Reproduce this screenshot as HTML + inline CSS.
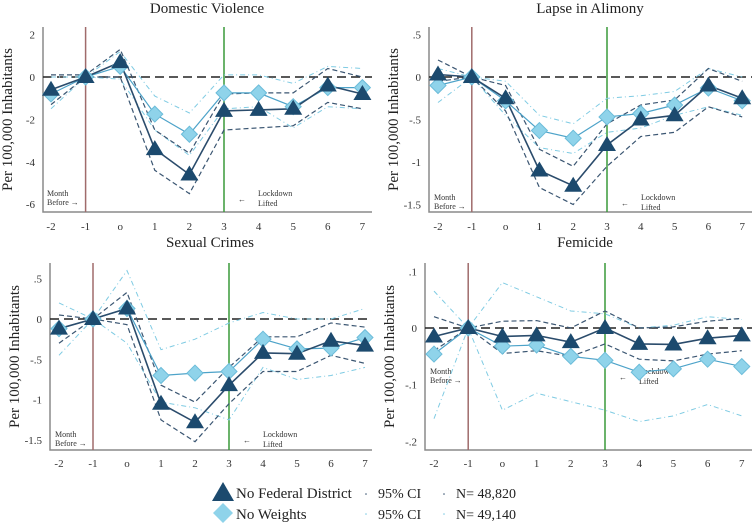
<!DOCTYPE html>
<html><head><meta charset="utf-8">
<style>
html,body{margin:0;padding:0;background:#fff;}
svg{display:block;font-family:"Liberation Serif",serif;}
</style></head>
<body>
<svg id="chart" width="752" height="526" viewBox="0 0 752 526" xmlns="http://www.w3.org/2000/svg"></svg>
<script>
const months = [-2,-1,0,1,2,3,4,5,6,7];
const monthLabels = ["-2","-1","o","1","2","3","4","5","6","7"];
// Domestic Violence
const dvTri = [-0.6,0,0.7,-3.4,-4.6,-1.6,-1.55,-1.5,-0.4,-0.8];
const dvDia = [-0.8,0,0.5,-1.75,-2.7,-0.75,-0.75,-1.4,-0.5,-0.5];
const dvTriHi = [0.1,0.1,1.3,-2.5,-3.6,-0.8,-0.75,-0.75,0.4,0];
const dvTriLo = [-1.3,0,0,-4.4,-5.5,-2.5,-2.4,-2.3,-1.2,-1.5];
const dvDiaHi = [0,0,1.2,-0.9,-1.7,0.1,0.1,-0.3,0.5,0.4];
const dvDiaLo = [-1.5,0,-0.1,-2.5,-3.7,-1.5,-1.4,-2.4,-1.4,-1.5];
const dvTicks = [2,0,-2,-4,-6];
const dvTickLabels = ["2","0","-2","-4","-6"];
// Lapse in Alimony
const laTri = [0.03,0,-0.25,-1.1,-1.28,-0.8,-0.5,-0.45,-0.1,-0.25];
const laDia = [-0.1,0,-0.28,-0.63,-0.72,-0.47,-0.43,-0.33,-0.13,-0.28];
const laTriHi = [0.2,0,-0.1,-0.85,-1.05,-0.55,-0.33,-0.27,0.1,-0.05];
const laTriLo = [-0.05,0,-0.4,-1.3,-1.5,-1.05,-0.7,-0.65,-0.35,-0.47];
const laDiaHi = [0.1,0,-0.05,-0.45,-0.55,-0.25,-0.22,-0.17,0.1,0];
const laDiaLo = [-0.3,0,-0.45,-0.83,-0.9,-0.65,-0.6,-0.45,-0.35,-0.45];
const laTicks = [0.5,0,-0.5,-1,-1.5];
const laTickLabels = [".5","0","-.5","-1","-1.5"];
// Sexual Crimes
const scTri = [-0.12,0,0.13,-1.05,-1.28,-0.82,-0.42,-0.43,-0.27,-0.33];
const scDia = [-0.12,0,0.13,-0.7,-0.67,-0.65,-0.25,-0.37,-0.36,-0.23];
const scTriHi = [0.05,0,0.33,-0.82,-1.03,-0.6,-0.22,-0.22,-0.05,-0.1];
const scTriLo = [-0.3,0,-0.07,-1.25,-1.52,-1.05,-0.65,-0.65,-0.45,-0.55];
const scDiaHi = [0.2,0,0.6,-0.38,-0.25,-0.05,0.08,0,0,0.13];
const scDiaLo = [-0.45,0,-0.3,-1.03,-1.1,-1.25,-0.6,-0.75,-0.7,-0.6];
const scTicks = [0.5,0,-0.5,-1,-1.5];
const scTickLabels = [".5","0","-.5","-1","-1.5"];
// Femicide
const feTri = [-0.015,0,-0.015,-0.013,-0.025,0,-0.028,-0.029,-0.018,-0.013];
const feDia = [-0.046,0,-0.032,-0.03,-0.05,-0.057,-0.078,-0.072,-0.055,-0.068];
const feTriHi = [0.02,0,0.012,0.013,0,0.03,0,0.002,0.012,0.017];
const feTriLo = [-0.04,0,-0.045,-0.04,-0.05,-0.028,-0.055,-0.058,-0.046,-0.04];
const feDiaHi = [0.065,0,0.08,0.055,0.03,0.025,0,0.005,0.02,0.015];
const feDiaLo = [-0.16,0,-0.145,-0.115,-0.13,-0.145,-0.165,-0.155,-0.135,-0.155];
const feTicks = [0.1,0,-0.1,-0.2];
const feTickLabels = [".1","0","-.1","-.2"];

const NS="http://www.w3.org/2000/svg";
const svg=document.getElementById('chart');
function mk(tag,attrs,parent,text){const e=document.createElementNS(NS,tag);for(const k in attrs)e.setAttribute(k,attrs[k]);if(text!==undefined)e.textContent=text;(parent||svg).appendChild(e);return e;}

const panels=[
 {key:'domestic-violence',title:'Domestic Violence',tx:207,ty:13,axL:43,top:27,bot:212,right:372,x0:51,dx:34.6,y0v:0,y0:77,ppu:21.2,
  tri:dvTri,dia:dvDia,th:dvTriHi,tl:dvTriLo,dh:dvDiaHi,dl:dvDiaLo,ticks:dvTicks,tl2:dvTickLabels,ann:200,lab:230},
 {key:'lapse-in-alimony',title:'Lapse in Alimony',tx:590,ty:13,axL:429,top:27,bot:212,right:752,x0:438,dx:33.8,y0v:0,y0:77,ppu:85,
  tri:laTri,dia:laDia,th:laTriHi,tl:laTriLo,dh:laDiaHi,dl:laDiaLo,ticks:laTicks,tl2:laTickLabels,ann:204,lab:230},
 {key:'sexual-crimes',title:'Sexual Crimes',tx:210,ty:247,axL:50,top:263,bot:450,right:372,x0:59,dx:34,y0v:0,y0:319,ppu:80.7,
  tri:scTri,dia:scDia,th:scTriHi,tl:scTriLo,dh:scDiaHi,dl:scDiaLo,ticks:scTicks,tl2:scTickLabels,ann:441,lab:467},
 {key:'femicide',title:'Femicide',tx:585,ty:247,axL:425,top:263,bot:450,right:752,x0:434,dx:34.2,y0v:0,y0:328,ppu:567,
  tri:feTri,dia:feDia,th:feTriHi,tl:feTriLo,dh:feDiaHi,dl:feDiaLo,ticks:feTicks,tl2:feTickLabels,ann:378,lab:467}
];

function pathFrom(p,arr){return arr.map((v,i)=>(i?'L':'M')+(p.x0+p.dx*(months[i]+2)).toFixed(1)+','+(p.y0-(v-p.y0v)*p.ppu).toFixed(1)).join(' ');}

panels.forEach(p=>{
 const g=mk('g',{});
 
 
 const X=m=>p.x0+p.dx*(m+2);
 const Y=v=>p.y0-(v-p.y0v)*p.ppu;
 const t=mk('text',{x:p.tx,y:p.ty,'text-anchor':'middle','font-size':15,fill:'#222'},g,p.title);
 
 
 const yl=mk('text',{x:0,y:0,transform:`translate(${p.axL-31},${(p.top+p.bot)/2}) rotate(-90)`,'text-anchor':'middle','font-size':15,fill:'#222'},g,'Per 100,000 Inhabitants');
 
 
 const ax=mk('path',{d:`M${p.axL},${p.top} L${p.axL},${p.bot} L${p.right},${p.bot}`,stroke:'#8a8a8a','stroke-width':1.5,fill:'none'},g);
 
 
 p.ticks.forEach((v,i)=>{
  const tt=mk('text',{x:p.axL-8,y:Y(v)+4,'text-anchor':'end','font-size':11,fill:'#333'},g,p.tl2[i]);
  
  
 });
 months.forEach((m,i)=>{
  const tt=mk('text',{x:X(m),y:p.lab,'text-anchor':'middle','font-size':11,fill:'#333'},g,monthLabels[i]);
  
  
 });
 const red=mk('line',{x1:X(-1),x2:X(-1),y1:p.top,y2:p.bot,stroke:'#a06b6b','stroke-width':1.5},g);
 
 
 const grn=mk('line',{x1:X(3),x2:X(3),y1:p.top,y2:p.bot,stroke:'#3a9a3a','stroke-width':1.5},g);
 
 
 const z=mk('line',{x1:p.axL,x2:p.right,y1:Y(0),y2:Y(0),stroke:'#222','stroke-width':1.5,'stroke-dasharray':'9,5'},g);
 
 
 const a1=mk('text',{x:X(-2)-4,y:p.ann-4,'font-size':8,fill:'#333'},g,'Month');
 
 
 mk('text',{x:X(-2)-4,y:p.ann+5,'font-size':8,fill:'#333'},g,'Before \u2192');
 const a2=mk('text',{x:X(3)+34,y:p.ann-4,'font-size':8,fill:'#333'},g,'Lockdown');
 
 
 mk('text',{x:X(3)+14,y:p.ann+2,'font-size':8,fill:'#333'},g,'\u2190');
 mk('text',{x:X(3)+34,y:p.ann+6,'font-size':8,fill:'#333'},g,'Lifted');
 [[p.dh,'light-ci-upper'],[p.dl,'light-ci-lower']].forEach(([a,n])=>{
  const e=mk('path',{d:pathFrom(p,a),stroke:'#7fcbe3','stroke-width':1,fill:'none','stroke-dasharray':'5,3,1,3'},g);
  
  
 });
 [[p.th,'dark-ci-upper'],[p.tl,'dark-ci-lower']].forEach(([a,n])=>{
  const e=mk('path',{d:pathFrom(p,a),stroke:'#3b5672','stroke-width':1.2,fill:'none','stroke-dasharray':'5,3'},g);
  
  
 });
 const dl=mk('path',{d:pathFrom(p,p.dia),stroke:'#4da3c9','stroke-width':1.2,fill:'none'},g);
 
 
 const tl=mk('path',{d:pathFrom(p,p.tri),stroke:'#2b4c6c','stroke-width':1.6,fill:'none'},g);
 
 
 p.dia.forEach((v,i)=>{
  const x=X(months[i]),y=Y(v);
  const d=mk('polygon',{points:`${x},${y-8} ${x+8},${y} ${x},${y+8} ${x-8},${y}`,fill:'#8fd3ea',stroke:'#6bbcd9','stroke-width':1},g);
  
  
 });
 p.tri.forEach((v,i)=>{
  const x=X(months[i]),y=Y(v);
  const d=mk('polygon',{points:`${x},${y-9} ${x+9},${y+6} ${x-9},${y+6}`,fill:'#1c4a6e'},g);
  
  
 });
});

// legend
const lg=mk('g',{});


mk('polygon',{points:'223,482 234,501 212,501',fill:'#1c4a6e'},lg);
const l1=mk('text',{x:236,y:498,'font-size':15,fill:'#222'},lg,'No Federal District');


mk('polygon',{points:'223,503 233,513 223,523 213,513',fill:'#8fd3ea'},lg);
const l2=mk('text',{x:236,y:519,'font-size':15,fill:'#222'},lg,'No  Weights');


mk('circle',{cx:366,cy:494,r:0.8,fill:'#3b5672'},lg);
mk('circle',{cx:366,cy:514,r:0.8,fill:'#7fcbe3'},lg);
const c1=mk('text',{x:378,y:498,'font-size':14,fill:'#222'},lg,'95% CI');


const c2=mk('text',{x:378,y:519,'font-size':14,fill:'#222'},lg,'95% CI');


mk('circle',{cx:444,cy:494,r:0.8,fill:'#3b5672'},lg);
mk('circle',{cx:444,cy:514,r:0.8,fill:'#7fcbe3'},lg);
const n1=mk('text',{x:456,y:498,'font-size':14,fill:'#222'},lg,'N=  48,820');


const n2=mk('text',{x:456,y:519,'font-size':14,fill:'#222'},lg,'N=  49,140');


</script>
</body></html>
